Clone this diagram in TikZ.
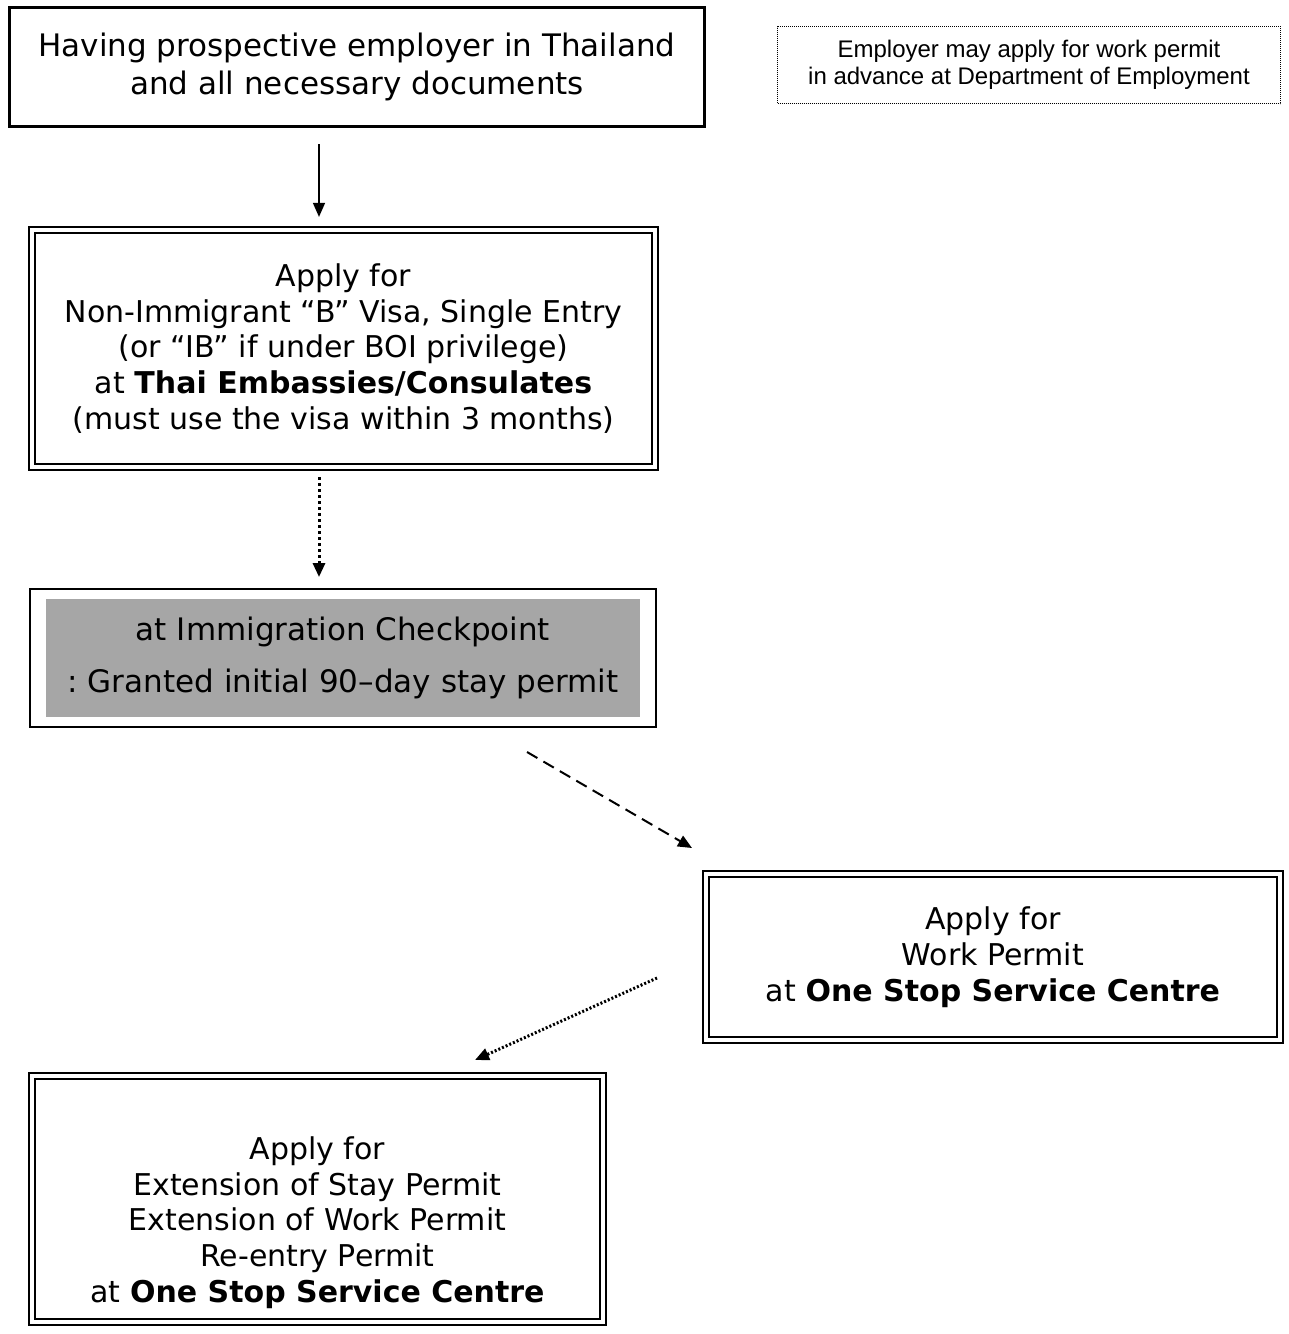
\documentclass[tikz,border=0pt]{standalone}
\usepackage{fontspec}
\setmainfont{DejaVu Sans}
\newfontfamily\notefont{Liberation Sans}
\usepackage{tikz}
\usetikzlibrary{positioning}
\usetikzlibrary{arrows.meta}
\usetikzlibrary{fit}
\definecolor{checkgray}{HTML}{A6A6A6}
\frenchspacing
\tikzset{
    flow chart/.style={
            x=1pt,y=-1pt,
            every node/.style={align=center,font=\fontsize{30}{35.75}\selectfont},
            singlebox/.style={draw,line width=3pt,inner sep=0pt},
            doublebox/.style={draw,double,line width=2.2pt,double distance=3.2pt,inner sep=0pt},
            thinframe/.style={draw,line width=1.5pt},
            notebox/.style={draw,densely dotted,line width=1pt,inner sep=0pt,
                    font=\notefont\fontsize{24}{27}\selectfont},
            arrow/.style={-{Triangle[length=14pt,width=12pt]},line width=1.5pt},
            dotarrow/.style={arrow,line width=3pt,dash pattern=on 3pt off 3pt},
            dasharrow/.style={arrow,line width=2pt,dash pattern=on 12pt off 7pt},
            finearrow/.style={arrow,line width=3pt,dash pattern=on 2pt off 2pt}
        }
    }

\begin{document}
\begin{tikzpicture}[flow chart]
        \useasboundingbox (0,0) rectangle (1289,1334);
        \coordinate (axis) at (319,0);

        \node (employer) [singlebox, minimum width=695pt, minimum height=119pt,
            font=\fontsize{31}{38}\selectfont] at (357,67)
            {Having prospective employer in Thailand\\and all necessary documents};
        \node (advance) [notebox, minimum width=503pt, minimum height=77pt] at (1029,65)
            {Employer may apply for work permit\\in advance at Department of Employment};
        \node (visa) [doublebox, minimum width=623pt, minimum height=237pt] at (343.5,348.5)
            {Apply for\\Non-Immigrant “B” Visa, Single Entry\\(or “IB” if under BOI privilege)\\
             at \textbf{Thai Embassies/Consulates}\\(must use the visa within 3 months)};
        \node (check) [fill=checkgray, minimum width=594pt, minimum height=118pt,
            font=\fontsize{31}{35.75}\selectfont] at (343,658)
            {at Immigration Checkpoint\\[16pt]: Granted initial 90–day stay permit};
        \node (checkframe) [thinframe, fit=(check), inner xsep=16pt, inner ysep=10pt] {};
        \node (workpermit) [doublebox, minimum width=574pt, minimum height=166pt] at (993,957)
            {Apply for\\Work Permit\\at \textbf{One Stop Service Centre}};
        \node (extension) [doublebox, minimum width=571pt, minimum height=246pt] at (317.5,1199)
            {\mbox{}\\[34pt]Apply for\\Extension of Stay Permit\\Extension of Work Permit\\
             Re-entry Permit\\at \textbf{One Stop Service Centre}};

        \coordinate (dashfrom) at (527,752);
        \coordinate (dashto) at (692,848);
        \coordinate (finefrom) at (657,978);
        \coordinate (fineto) at (475,1060);

        \draw [arrow, shorten <=16pt, shorten >=12pt] (employer.south -| axis) -- (visa.north -| axis);
        \draw [dotarrow, shorten <=9pt, shorten >=11pt] (visa.south -| axis) -- (checkframe.north -| axis);
        \draw [dasharrow] (dashfrom) -- (dashto);
        \draw [finearrow] (finefrom) -- (fineto);
    \end{tikzpicture}
\end{document}
